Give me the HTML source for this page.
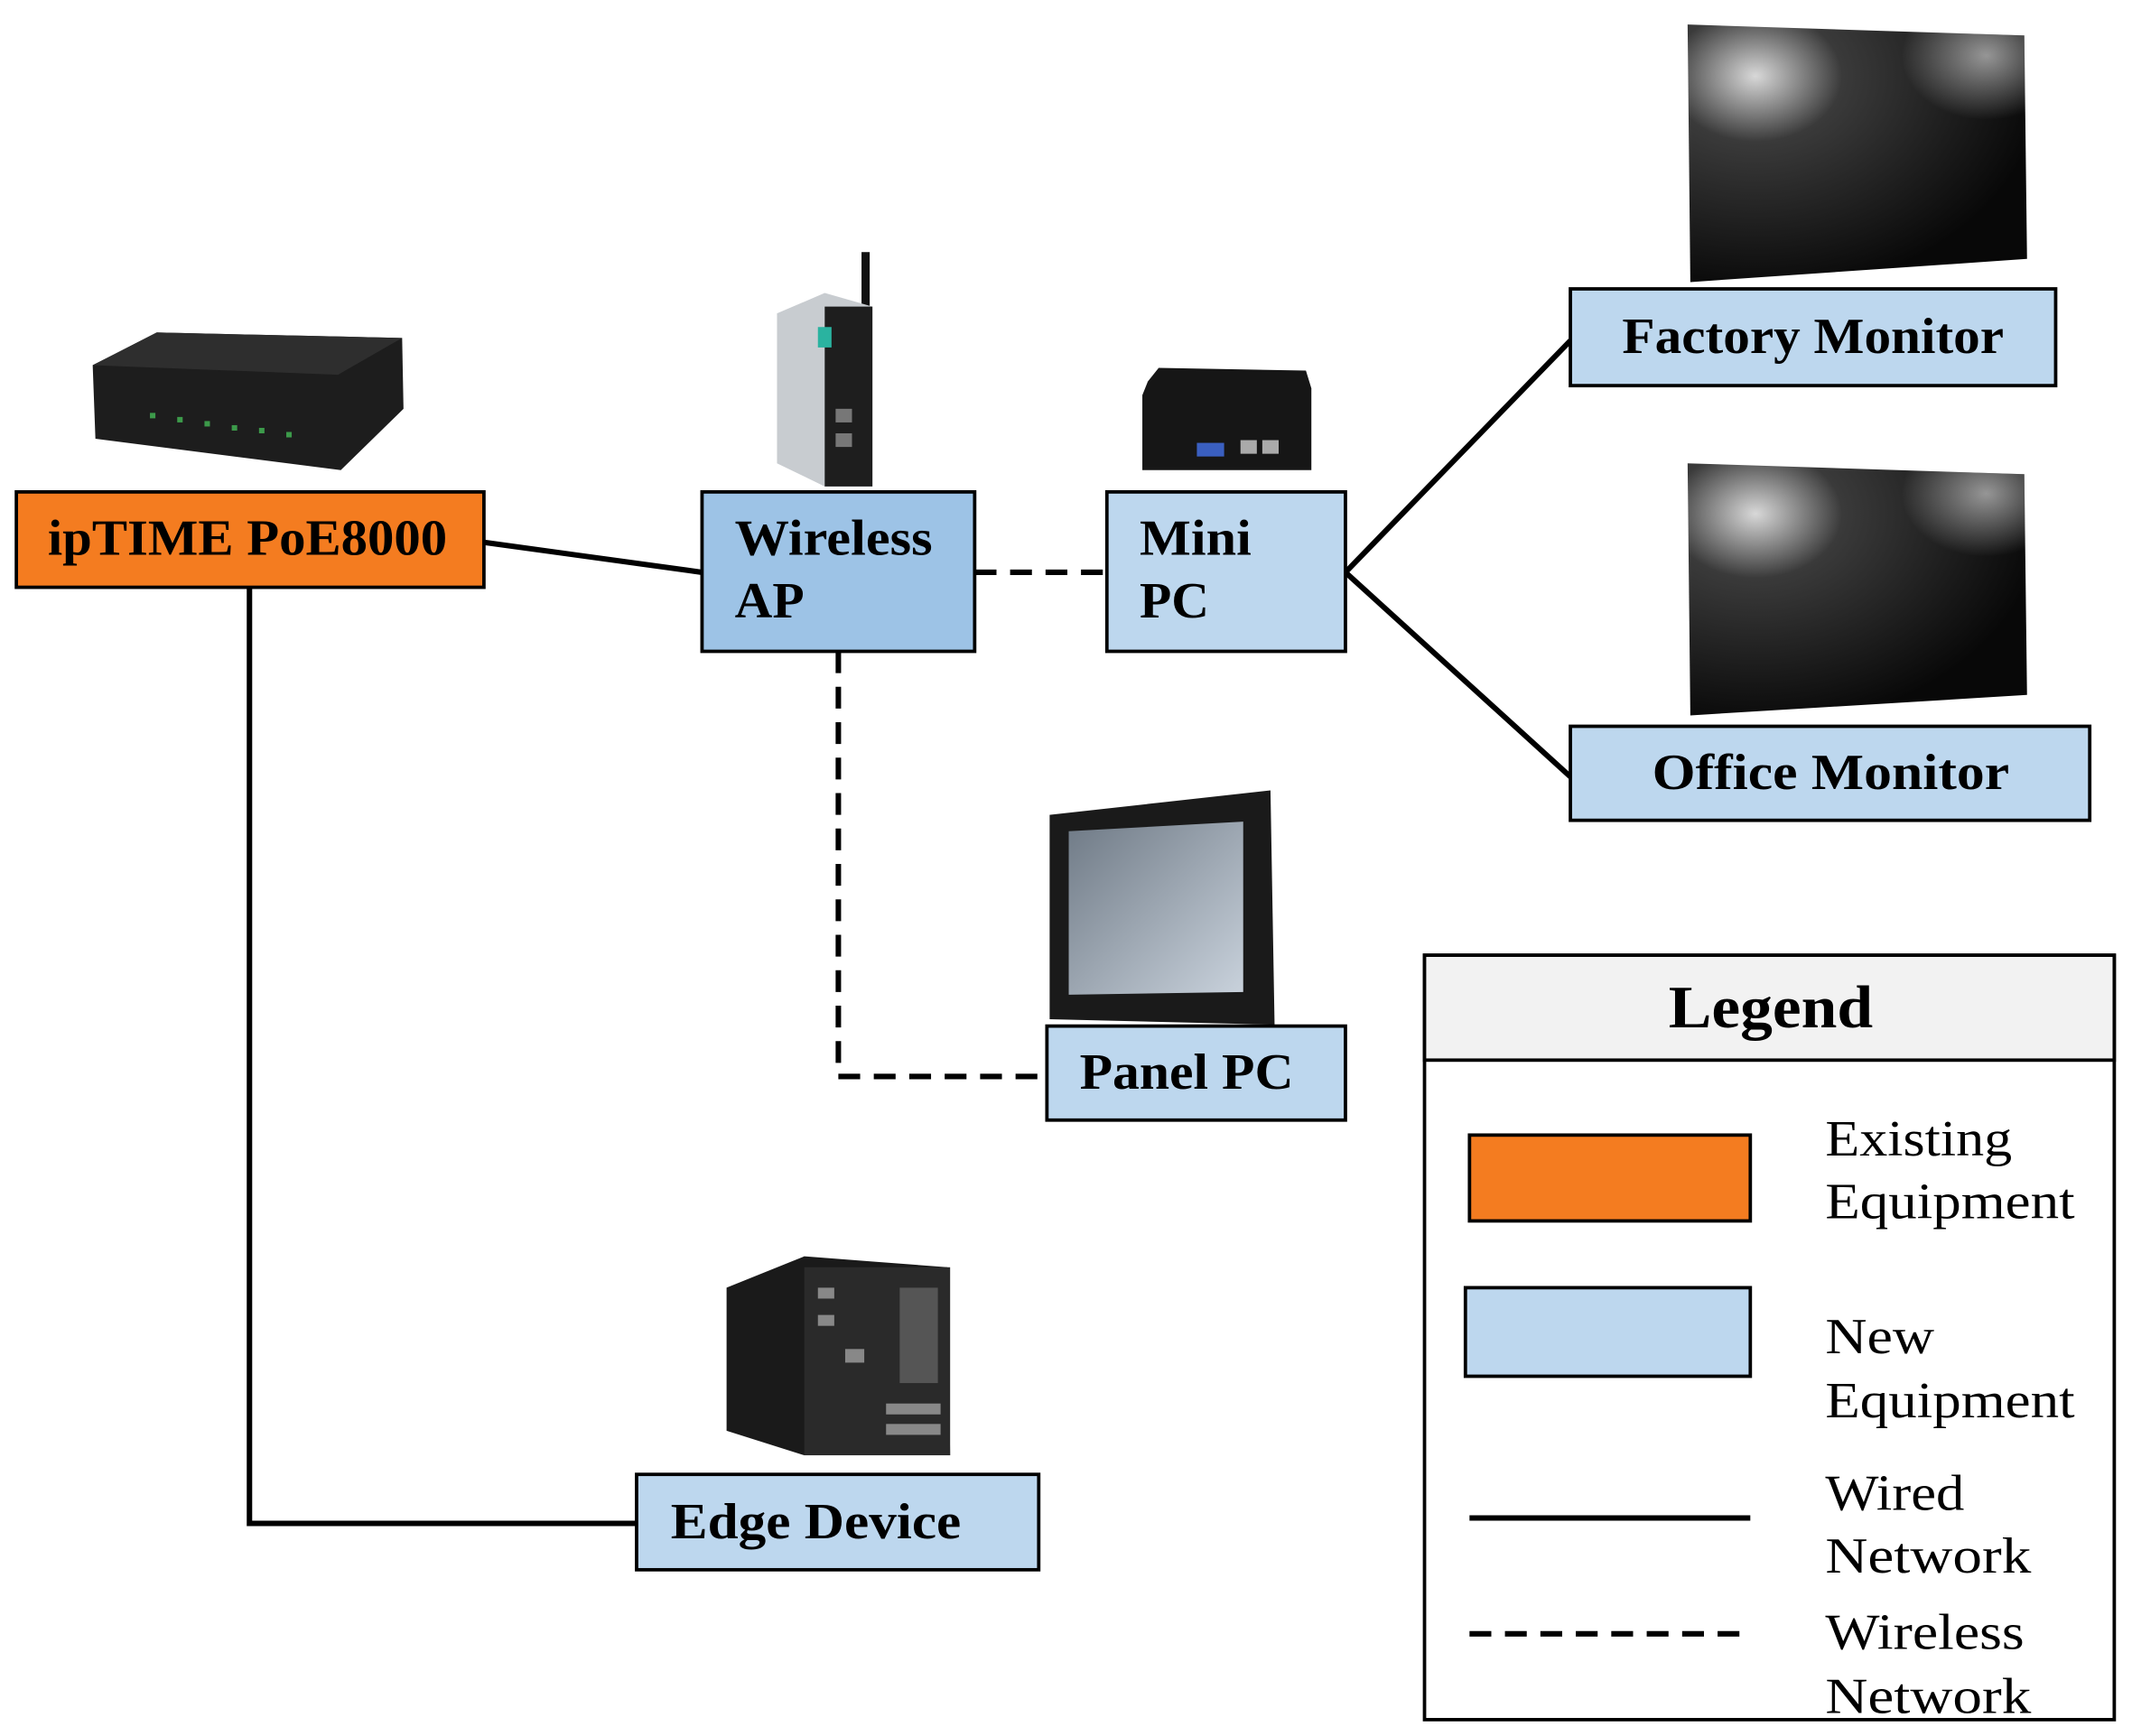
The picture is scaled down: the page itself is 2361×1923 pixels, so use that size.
<!DOCTYPE html>
<html><head><meta charset="utf-8"><style>html,body{margin:0;padding:0;background:#fff}svg{display:block}</style></head><body>
<svg width="2361" height="1923" viewBox="0 0 1564 1274" preserveAspectRatio="none" xmlns="http://www.w3.org/2000/svg" font-family="'Liberation Serif', serif">
<defs>
<radialGradient id="g1" cx="0.2" cy="0.2" r="0.85"><stop offset="0" stop-color="#d8d8d8"/><stop offset="0.3" stop-color="#3a3a3a"/><stop offset="1" stop-color="#080808"/></radialGradient>
<radialGradient id="g2" cx="0.88" cy="0.12" r="0.25"><stop offset="0" stop-color="#fff" stop-opacity="0.55"/><stop offset="1" stop-color="#fff" stop-opacity="0"/></radialGradient>
<linearGradient id="scr" x1="0" y1="0" x2="1" y2="1"><stop offset="0" stop-color="#6f7a86"/><stop offset="1" stop-color="#c9d2dc"/></linearGradient>
</defs>
<g stroke="#000" stroke-width="4" fill="none">
<line x1="355" y1="398" x2="515" y2="420"/>
<line x1="987" y1="420" x2="1152" y2="250"/>
<line x1="987" y1="420" x2="1152" y2="570"/>
<polyline points="183,431 183,1118 467,1118"/>
<g stroke-dasharray="16,10">
<line x1="715" y1="420" x2="812" y2="420"/>
<polyline points="615,478 615,790 768,790"/>
</g>
</g>
<polygon points="68,268 115,244 295,248 296,300 250,345 70,322" fill="#1d1d1d"/>
<polygon points="68,268 115,244 295,248 248,275" fill="#2e2e2e"/>
<g fill="#3c9a4a"><rect x="110" y="303" width="4" height="4"/><rect x="130" y="306" width="4" height="4"/><rect x="150" y="309" width="4" height="4"/><rect x="170" y="312" width="4" height="4"/><rect x="190" y="314" width="4" height="4"/><rect x="210" y="317" width="4" height="4"/></g>
<rect x="632" y="185" width="6" height="70" fill="#111"/>
<polygon points="570,230 605,215 640,225 640,357 605,357 570,340" fill="#c8ccd0"/>
<rect x="605" y="225" width="35" height="132" fill="#1e1e1e"/>
<rect x="600" y="240" width="10" height="15" fill="#2ab3a0"/>
<rect x="613" y="300" width="12" height="10" fill="#777"/><rect x="613" y="318" width="12" height="10" fill="#777"/>
<polygon points="842,280 850,270 958,272 962,285 962,345 838,345 838,290" fill="#161616"/>
<rect x="878" y="325" width="20" height="10" fill="#3a5fc0"/><rect x="910" y="323" width="12" height="10" fill="#aaa"/><rect x="926" y="323" width="12" height="10" fill="#aaa"/>
<polygon points="1238,18 1485,26 1487,190 1240,207" fill="url(#g1)"/>
<polygon points="1238,18 1485,26 1487,190 1240,207" fill="url(#g2)"/>
<polygon points="1238,340 1485,348 1487,510 1240,525" fill="url(#g1)"/>
<polygon points="1238,340 1485,348 1487,510 1240,525" fill="url(#g2)"/>
<polygon points="770,598 932,580 935,752 770,748" fill="#1a1a1a"/>
<polygon points="784,610 912,603 912,728 784,730" fill="url(#scr)"/>
<polygon points="533,945 590,922 695,930 697,1068 590,1068 533,1050" fill="#1a1a1a"/>
<rect x="590" y="930" width="107" height="138" fill="#2a2a2a"/>
<g fill="#888"><rect x="600" y="945" width="12" height="8"/><rect x="600" y="965" width="12" height="8"/><rect x="620" y="990" width="14" height="10"/><rect x="650" y="1030" width="40" height="8"/><rect x="650" y="1045" width="40" height="8"/></g>
<rect x="660" y="945" width="28" height="70" fill="#555"/>
<g stroke="#000" stroke-width="2.5">
<rect x="12" y="361" width="343" height="70" fill="#F47C20"/>
<rect x="515" y="361" width="200" height="117" fill="#9DC3E6"/>
<rect x="812" y="361" width="175" height="117" fill="#BDD7EE"/>
<rect x="1152" y="212" width="356" height="71" fill="#BDD7EE"/>
<rect x="1152" y="533" width="381" height="69" fill="#BDD7EE"/>
<rect x="768" y="753" width="219" height="69" fill="#BDD7EE"/>
<rect x="467" y="1082" width="295" height="70" fill="#BDD7EE"/>
</g>
<g font-weight="bold" font-size="37" fill="#000">
<text x="35" y="407" textLength="293" lengthAdjust="spacingAndGlyphs">ipTIME PoE8000</text>
<text x="539" y="407" textLength="145" lengthAdjust="spacingAndGlyphs">Wireless</text><text x="539" y="453" textLength="51" lengthAdjust="spacingAndGlyphs">AP</text>
<text x="836" y="407" textLength="82" lengthAdjust="spacingAndGlyphs">Mini</text><text x="836" y="453" textLength="51" lengthAdjust="spacingAndGlyphs">PC</text>
<text x="1190" y="259" textLength="280" lengthAdjust="spacingAndGlyphs">Factory Monitor</text>
<text x="1212" y="579" textLength="262" lengthAdjust="spacingAndGlyphs">Office Monitor</text>
<text x="792" y="799" textLength="157" lengthAdjust="spacingAndGlyphs">Panel PC</text>
<text x="492" y="1129" textLength="213" lengthAdjust="spacingAndGlyphs">Edge Device</text>
</g>
<rect x="1045" y="701" width="506" height="561" fill="#fff" stroke="#000" stroke-width="2.5"/>
<rect x="1045" y="701" width="506" height="77" fill="#f2f2f2" stroke="#000" stroke-width="2.5"/>
<text x="1224" y="754" font-weight="bold" font-size="44" textLength="150" lengthAdjust="spacingAndGlyphs">Legend</text>
<rect x="1078" y="833" width="206" height="63" fill="#F47C20" stroke="#000" stroke-width="2.5"/>
<rect x="1075" y="945" width="209" height="65" fill="#BDD7EE" stroke="#000" stroke-width="2.5"/>
<line x1="1078" y1="1114" x2="1284" y2="1114" stroke="#000" stroke-width="4"/>
<line x1="1078" y1="1199" x2="1284" y2="1199" stroke="#000" stroke-width="4" stroke-dasharray="16,10"/>
<g font-size="37" fill="#000" lengthAdjust="spacingAndGlyphs">
<text x="1339" y="848" textLength="137" lengthAdjust="spacingAndGlyphs">Existing</text><text x="1339" y="894" textLength="183" lengthAdjust="spacingAndGlyphs">Equipment</text>
<text x="1339" y="993" textLength="80" lengthAdjust="spacingAndGlyphs">New</text><text x="1339" y="1040" textLength="183" lengthAdjust="spacingAndGlyphs">Equipment</text>
<text x="1339" y="1108" textLength="102" lengthAdjust="spacingAndGlyphs">Wired</text><text x="1339" y="1154" textLength="151" lengthAdjust="spacingAndGlyphs">Network</text>
<text x="1339" y="1210" textLength="146" lengthAdjust="spacingAndGlyphs">Wireless</text><text x="1339" y="1257" textLength="151" lengthAdjust="spacingAndGlyphs">Network</text>
</g>
</svg>
</body></html>
